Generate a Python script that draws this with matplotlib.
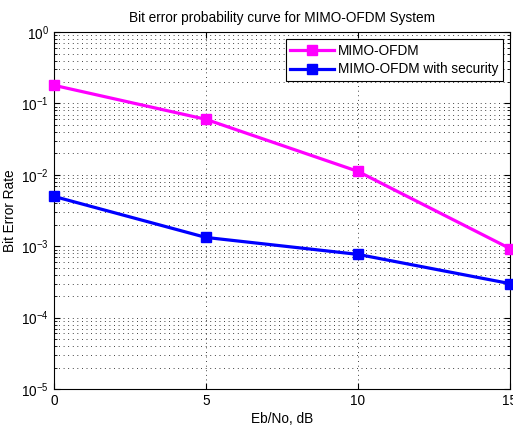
import matplotlib
matplotlib.use("Agg")
import matplotlib.pyplot as plt
from matplotlib.ticker import LogLocator, NullFormatter

plt.rcParams['font.family'] = ['Liberation Sans', 'DejaVu Sans']

ebno = [0, 5, 10, 15]
ber_mimo = [0.18, 0.060, 0.0112, 0.00093]
ber_secure = [0.0050, 0.00133, 0.00077, 0.00030]
labels = ['MIMO-OFDM', 'MIMO-OFDM with security']
colors = ['#ff00ff', '#0000ff']

fs = 9.8

fig = plt.figure(figsize=(5.13, 4.28), dpi=100)
ax = fig.add_axes([0.105, 0.091, 0.889, 0.834])

ax.semilogy(ebno, ber_mimo, '-s', color=colors[0], lw=2.3, ms=7,
            mfc=colors[0], mec=colors[0], label=labels[0], clip_on=False, zorder=3)
ax.semilogy(ebno, ber_secure, '-s', color=colors[1], lw=2.3, ms=7,
            mfc=colors[1], mec=colors[1], label=labels[1], clip_on=False, zorder=3)

ax.set_xlim(0, 15)
ax.set_ylim(1e-5, 1)
ax.set_xticks([0, 5, 10, 15])
ax.yaxis.set_major_locator(LogLocator(base=10, numticks=10))
ax.yaxis.set_minor_locator(LogLocator(base=10, subs=range(2, 10), numticks=20))
ax.yaxis.set_minor_formatter(NullFormatter())

ax.grid(True, which='major', axis='both', linestyle=(0, (1, 4.5)), color='black', lw=0.6)
ax.grid(True, which='minor', axis='y', linestyle=(0, (1, 4.5)), color='black', lw=0.6)
ax.set_axisbelow(True)

ax.tick_params(which='both', direction='in', top=True, right=True, labelsize=fs)
ax.tick_params(which='major', length=4)
ax.tick_params(which='minor', length=2)
for s in ax.spines.values():
    s.set_linewidth(0.8)

ax.set_title('Bit error probability curve for MIMO-OFDM System', fontsize=fs, pad=7)
ax.set_xlabel('Eb/No, dB', fontsize=fs, labelpad=3)
ax.set_ylabel('Bit Error Rate', fontsize=fs, labelpad=3)

leg = ax.legend(loc='upper right', fontsize=fs, fancybox=False, framealpha=1,
                edgecolor='black', borderaxespad=0.5, handlelength=3.2,
                borderpad=0.35, labelspacing=0.35, handletextpad=0.3)
leg.get_frame().set_linewidth(0.8)

fig.savefig('out.png', dpi=100)
